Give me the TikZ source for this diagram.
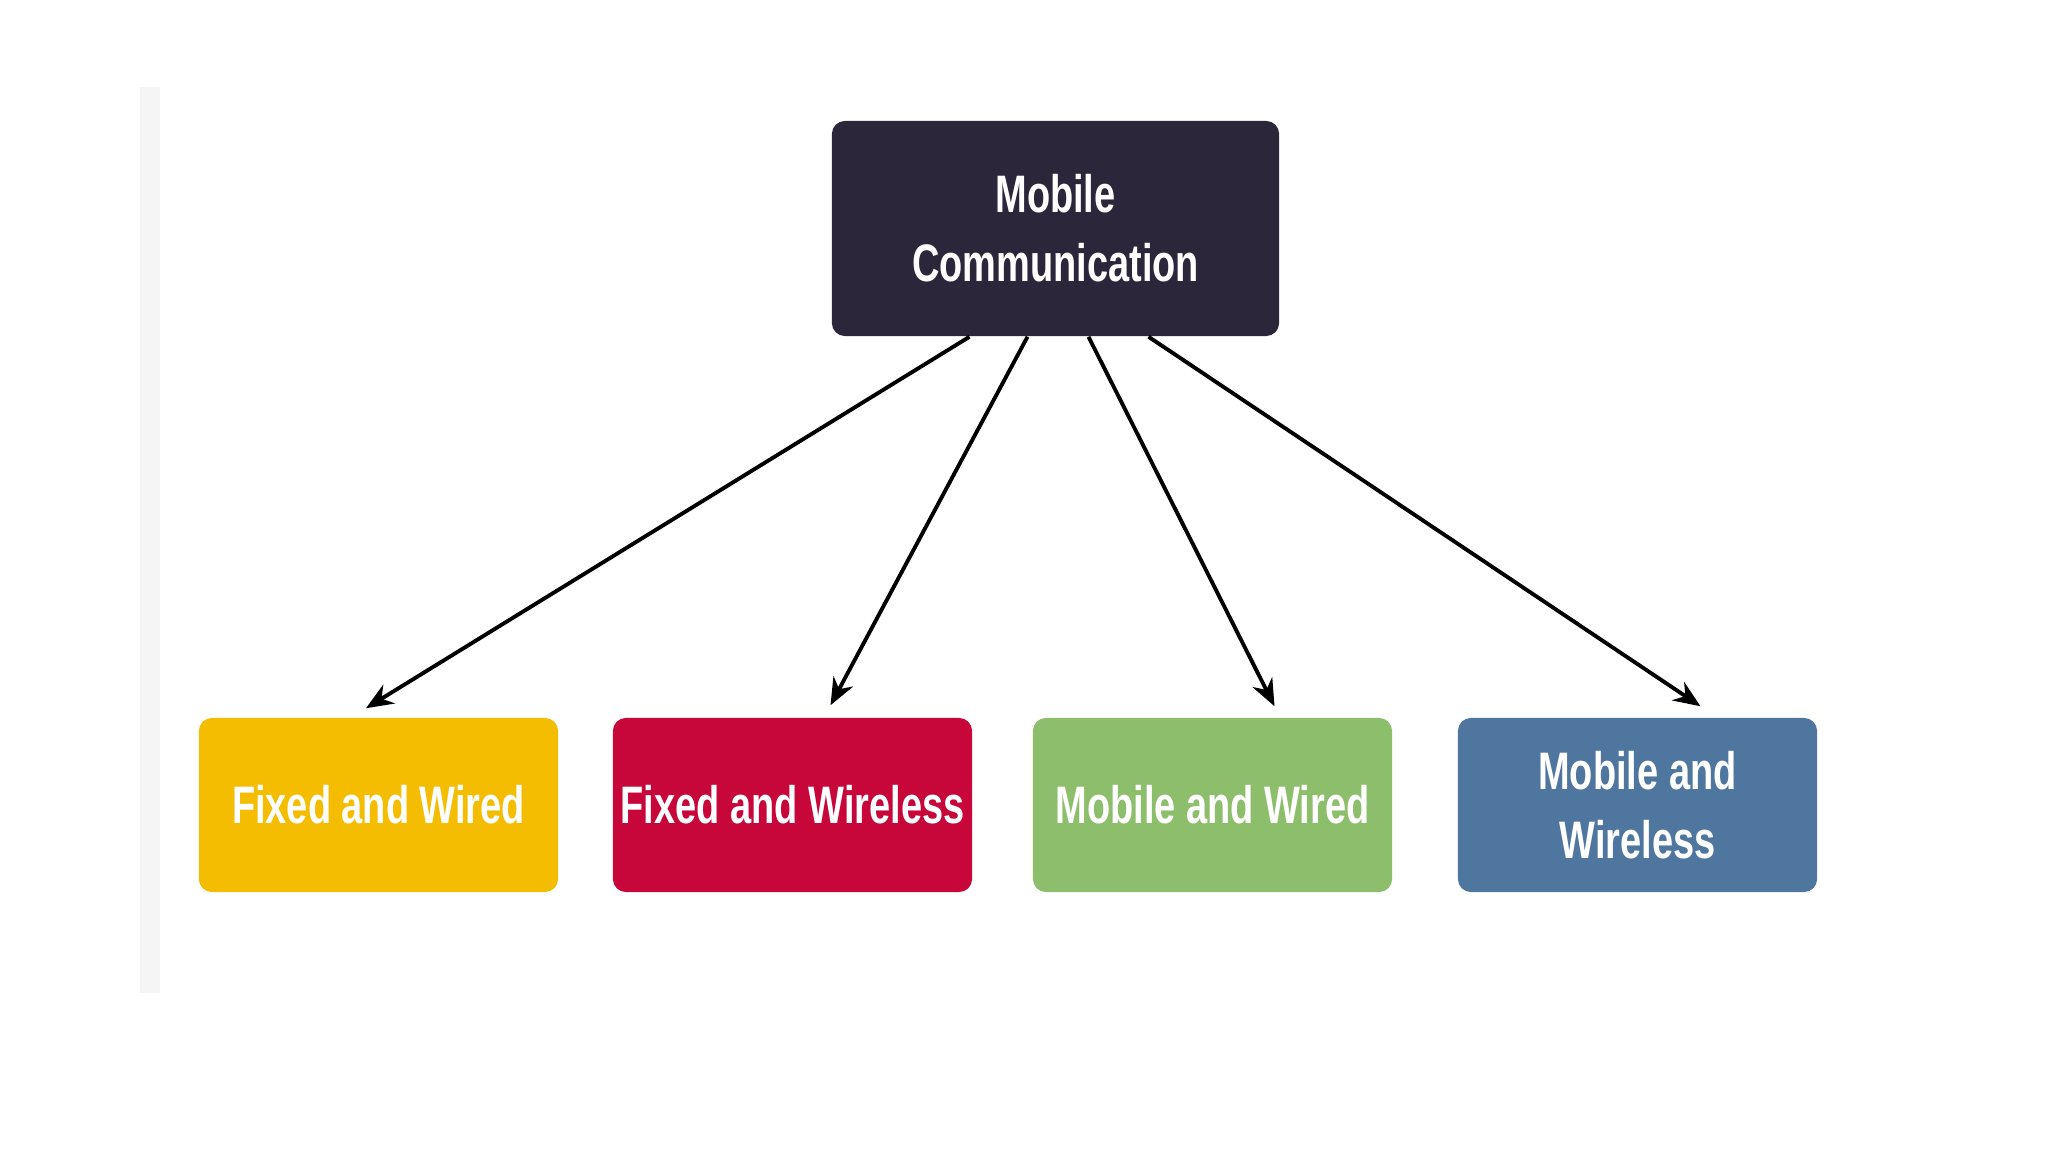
\documentclass[tikz,border=0pt]{standalone}
\usepackage{fontspec}
\newfontfamily\lbl[FakeStretch=0.72]{Liberation Sans}
\usetikzlibrary{calc,arrows.meta}
\definecolor{topc}{HTML}{2B2639}
\definecolor{yelc}{HTML}{F5BD02}
\definecolor{redc}{HTML}{C7063A}
\definecolor{grnc}{HTML}{8DBE6B}
\definecolor{bluc}{HTML}{4E769E}
\definecolor{barc}{HTML}{F5F5F5}
\tikzset{
  box/.style={rounded corners=0.13cm, inner sep=0pt, align=center, text=white,
    font=\lbl\bfseries\fontsize{15}{19.6}\selectfont},
  leaf/.style={box, minimum width=3.59cm, minimum height=1.74cm},
  conn/.style={draw=black, line width=1.1pt, -{Stealth[length=0.27cm,width=0.22cm]}}
}
\begin{document}
\begin{tikzpicture}[x=0.01cm,y=-0.01cm]
\useasboundingbox (0,0) rectangle (2048,1152);
\fill[barc] (140,87) rectangle (160,993);
\node[box, fill=topc, minimum width=4.47cm, minimum height=2.15cm] (top) at (1055.5,228.5) {Mobile\\Communication};
\node[leaf, fill=yelc] (yel) at (378.5,805) {Fixed and Wired};
\node[leaf, fill=redc] (red) at (792.5,805) {Fixed and Wireless};
\node[leaf, fill=grnc] (grn) at (1212.5,805) {Mobile and Wired};
\node[leaf, fill=bluc] (blu) at (1637.5,805) {Mobile and\\Wireless};
\draw[conn] ($(top.south)+(-86,0)$) -- ($(yel.north)+(-12.5,-9)$);
\draw[conn] ($(top.south)+(-28,0)$) -- ($(red.north)+(38,-12)$);
\draw[conn] ($(top.south)+(33,0)$) -- ($(grn.north)+(62,-11)$);
\draw[conn] ($(top.south)+(93,0)$) -- ($(blu.north)+(63,-11)$);
\end{tikzpicture}
\end{document}
